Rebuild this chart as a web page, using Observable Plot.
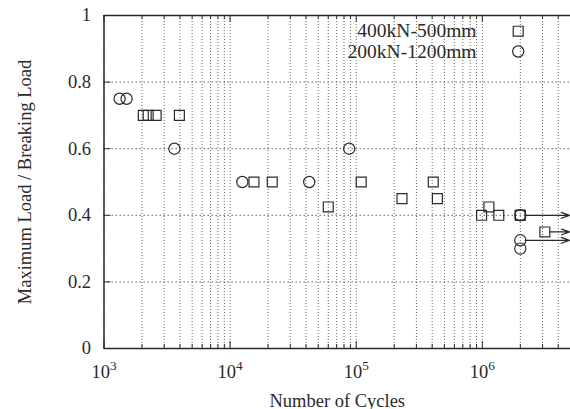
<!DOCTYPE html>
<html><head><meta charset="utf-8">
<script src="https://cdn.jsdelivr.net/npm/d3@7"></script>
<script src="https://cdn.jsdelivr.net/npm/@observablehq/plot@0.6"></script>
<style>
html,body{margin:0;padding:0;background:#fff;}
#chart svg{display:block;}
</style></head><body><div id="chart"></div>
<script>
// ---- data ----
const seriesNames = ["400kN-500mm", "200kN-1200mm"];
const seriesSymbols = ["square", "circle"];
const squareCycles = [2050, 2240, 2590, 3960, 15460, 21580, 60000, 109500, 230600, 408000, 440000, 986000, 1127000, 1350000, 2000000, 2000000, 3130000];
const squareLoads  = [0.7, 0.7, 0.7, 0.7, 0.5, 0.5, 0.425, 0.5, 0.45, 0.5, 0.45, 0.4, 0.425, 0.4, 0.4, 0.4, 0.35];
const circleCycles = [1330, 1510, 3615, 12500, 42400, 87900, 2000000, 2000000, 2000000];
const circleLoads  = [0.75, 0.75, 0.6, 0.5, 0.5, 0.6, 0.4, 0.325, 0.3];
const runoutStartCycles = [2000000, 3130000, 2000000];
const runoutLoads = [0.4, 0.35, 0.325];
const runoutEndCycles = 4900000;
const xDomain = [1e3, 5e6];
const yDomain = [0, 1];
const xMajorTicks = [1e3, 1e4, 1e5, 1e6];
const yTicks = [0, 0.2, 0.4, 0.6, 0.8, 1];
const xLabel = "Number of Cycles";
const yLabel = "Maximum Load / Breaking Load";

// ---- derived tables ----
const squares = squareCycles.map((c, i) => ({c, v: squareLoads[i]}));
const circles = circleCycles.map((c, i) => ({c, v: circleLoads[i]}));
const runouts = runoutStartCycles.map((c, i) => ({c, v: runoutLoads[i], e: runoutEndCycles}));
const xMinorTicks = [];
for (const k of xMajorTicks) for (let m = 2; m <= 9; m++) if (m * k <= xDomain[1]) xMinorTicks.push(m * k);
const xAllTicks = xMajorTicks.concat(xMinorTicks);
const yGrid = yTicks.filter(d => d > yDomain[0] && d < yDomain[1]);

const ink = "#2a2a2a";
const W = 570, H = 409, mL = 103.5, mT = 15, mB = 61, mR = 0;
const pxPerY = (H - mT - mB) / (yDomain[1] - yDomain[0]);
const pxPerDecade = (W - mL - mR) / Math.log10(xDomain[1] / xDomain[0]);
const majLen = 7, minLen = 4;
const legendRows = [15.7, 36];

const legendMarks = seriesNames.flatMap((name, i) => [
  Plot.text([name], {text: d => d, frameAnchor: "top-right", dx: -94, dy: legendRows[i], textAnchor: "end", lineAnchor: "middle",
    fontSize: 19.5, fill: ink, ariaLabel: "legend-text"}),
  Plot.dot([name], {frameAnchor: "top-right", dx: -52.3, dy: legendRows[i], symbol: seriesSymbols[i], r: 5.6, stroke: ink, strokeWidth: 1.2, fill: "none"})
]);

const plot = Plot.plot({
  width: W, height: H,
  marginLeft: mL, marginTop: mT, marginBottom: mB, marginRight: mR,
  style: {fontFamily: "'Liberation Serif','Times New Roman',serif", fontSize: "18.5px", color: ink, background: "#fff"},
  x: {type: "log", domain: xDomain},
  y: {domain: yDomain},
  marks: [
    // grid
    Plot.ruleX(xAllTicks, {stroke: "#555", strokeWidth: 0.9, strokeDasharray: "1,2"}),
    Plot.ruleY(yGrid, {stroke: "#555", strokeWidth: 0.9, strokeDasharray: "1.5,2.5"}),
    // inward ticks
    Plot.ruleX(xMajorTicks, {y1: yDomain[0], y2: yDomain[0] + majLen / pxPerY, stroke: ink, strokeWidth: 1}),
    Plot.ruleX(xMinorTicks, {y1: yDomain[0], y2: yDomain[0] + minLen / pxPerY, stroke: ink, strokeWidth: 1}),
    Plot.ruleX(xMajorTicks, {y1: yDomain[1], y2: yDomain[1] - majLen / pxPerY, stroke: ink, strokeWidth: 1}),
    Plot.ruleX(xMinorTicks, {y1: yDomain[1], y2: yDomain[1] - minLen / pxPerY, stroke: ink, strokeWidth: 1}),
    Plot.ruleY(yTicks, {x1: xDomain[0], x2: xDomain[0] * Math.pow(10, majLen / pxPerDecade), stroke: ink, strokeWidth: 1}),
    // border
    Plot.ruleX([xDomain[0]], {stroke: ink, strokeWidth: 1.5}),
    Plot.ruleY(yDomain, {stroke: ink, strokeWidth: 1.5}),
    // axes
    Plot.axisX({ticks: xMajorTicks, tickSize: 0, tickPadding: 16, tickFormat: d => String(Math.round(Math.log10(d))),
      label: xLabel, labelAnchor: "center", labelArrow: "none", labelOffset: 58}),
    Plot.axisY({ticks: yTicks, tickSize: 0, tickPadding: 13, tickFormat: d => String(d),
      label: yLabel, labelAnchor: "center", labelArrow: "none", labelOffset: 86}),
    // runout arrows
    Plot.arrow(runouts, {x1: "c", y1: "v", x2: "e", y2: "v", stroke: ink, strokeWidth: 1.3, headLength: 10, headAngle: 40, insetStart: 5}),
    // data
    Plot.dot(squares, {x: "c", y: "v", symbol: "square", r: 5.6, stroke: ink, strokeWidth: 1.2, fill: "none"}),
    Plot.dot(circles, {x: "c", y: "v", symbol: "circle", r: 5.6, stroke: ink, strokeWidth: 1.2, fill: "none"}),
    ...legendMarks
  ]
});
document.getElementById("chart").appendChild(plot);

// superscript exponents on x tick labels: 10^k
plot.querySelectorAll('g[aria-label="x-axis tick label"] text').forEach(t => {
  const e = t.textContent;
  t.textContent = "";
  const base = document.createElementNS("http://www.w3.org/2000/svg", "tspan");
  base.textContent = "10";
  const sup = document.createElementNS("http://www.w3.org/2000/svg", "tspan");
  sup.textContent = e;
  sup.setAttribute("dy", "-0.55em");
  sup.setAttribute("font-size", "0.72em");
  t.appendChild(base); t.appendChild(sup);
});

// opaque legend-text box (as in the original's key)
const legendGroups = [...plot.querySelectorAll('g[aria-label="legend-text"]')];
if (legendGroups.length) {
  let x0 = Infinity, y0 = Infinity, x1 = -Infinity, y1 = -Infinity;
  legendGroups.forEach(g => { const b = g.getBBox(); x0 = Math.min(x0, b.x); y0 = Math.min(y0, b.y); x1 = Math.max(x1, b.x + b.width); y1 = Math.max(y1, b.y + b.height); });
  const rect = document.createElementNS("http://www.w3.org/2000/svg", "rect");
  const top = mT + 1;
  rect.setAttribute("x", x0 - 8); rect.setAttribute("y", top);
  rect.setAttribute("width", x1 - x0 + 16); rect.setAttribute("height", y1 + 2 - top);
  rect.setAttribute("fill", "#fff");
  legendGroups[0].parentNode.insertBefore(rect, legendGroups[0]);
}
</script></body></html>
